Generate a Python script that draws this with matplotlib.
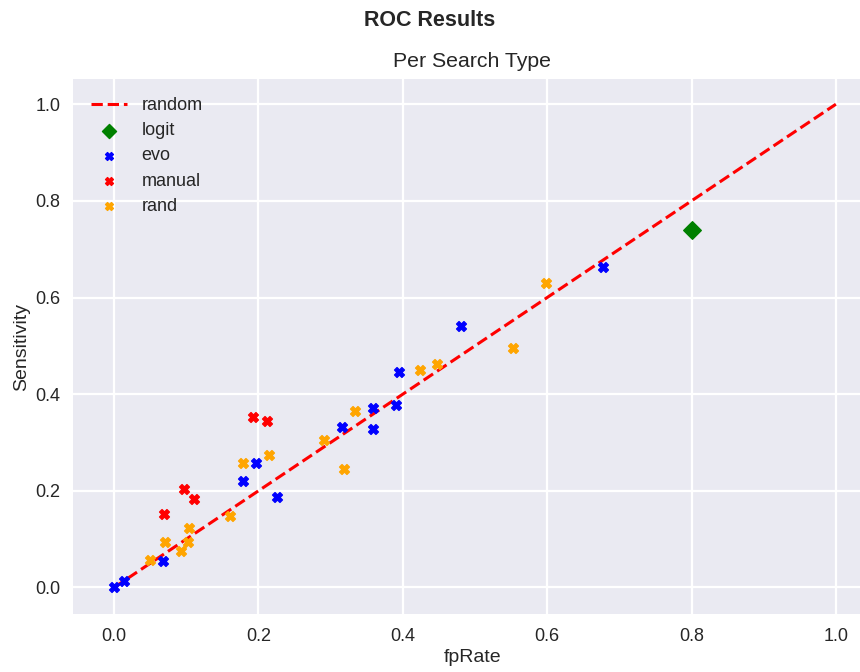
import matplotlib
matplotlib.use("Agg")
import matplotlib.pyplot as plt

# Data
random_x = [0.0, 1.0]
random_y = [0.0, 1.0]

logit_fp = [0.80]
logit_sens = [0.739]

evo_fp = [0.0, 0.014, 0.068, 0.178, 0.197, 0.226, 0.316, 0.358, 0.359, 0.391, 0.395, 0.481, 0.677]
evo_sens = [0.0, 0.014, 0.055, 0.221, 0.257, 0.187, 0.331, 0.327, 0.372, 0.378, 0.445, 0.540, 0.663]

manual_fp = [0.069, 0.097, 0.110, 0.192, 0.212]
manual_sens = [0.151, 0.203, 0.182, 0.352, 0.344]

rand_fp = [0.049, 0.071, 0.092, 0.103, 0.104, 0.160, 0.179, 0.214, 0.291, 0.318, 0.334, 0.424, 0.447, 0.552, 0.598]
rand_sens = [0.057, 0.093, 0.075, 0.095, 0.122, 0.147, 0.257, 0.275, 0.306, 0.246, 0.366, 0.451, 0.462, 0.495, 0.631]

plt.style.use("seaborn-v0_8-darkgrid")
plt.rcParams["font.family"] = ["Liberation Sans", "DejaVu Sans"]
plt.rcParams["grid.linewidth"] = 1.6

fig = plt.figure(figsize=(8.6, 6.72), dpi=100)
ax = fig.add_axes([0.0849, 0.0863, 0.929, 0.796])

ax.plot(random_x, random_y, "--", color="red", linewidth=2.2, label="random")
ax.scatter(logit_fp, logit_sens, marker="D", s=80, color="green", label="logit", zorder=3)
ax.scatter(evo_fp, evo_sens, marker="X", s=50, color="blue", label="evo", zorder=3)
ax.scatter(manual_fp, manual_sens, marker="X", s=50, color="red", label="manual", zorder=3)
ax.scatter(rand_fp, rand_sens, marker="X", s=50, color="orange", label="rand", zorder=3)

ax.set_xlim(-0.057, 1.05)
ax.set_ylim(-0.055, 1.052)
ax.set_xticks([0.0, 0.2, 0.4, 0.6, 0.8, 1.0])
ax.set_yticks([0.0, 0.2, 0.4, 0.6, 0.8, 1.0])
ax.tick_params(axis="x", labelsize=13, pad=10, labelcolor="#262626")
ax.tick_params(axis="y", labelsize=13, pad=9, labelcolor="#262626")
ax.set_xlabel("fpRate", fontsize=14, labelpad=3, color="#262626")
ax.set_ylabel("Sensitivity", fontsize=14, labelpad=4, color="#262626")
ax.set_title("Per Search Type", fontsize=15.3, pad=9, color="#262626")
fig.suptitle("ROC Results", fontsize=15.5, fontweight="bold", y=0.985, color="#262626")

ax.legend(loc="upper left", fontsize=13, frameon=False, markerscale=0.8,
          labelspacing=0.45, handlelength=2.0, borderaxespad=0.6)

fig.savefig("out.png", dpi=100)
